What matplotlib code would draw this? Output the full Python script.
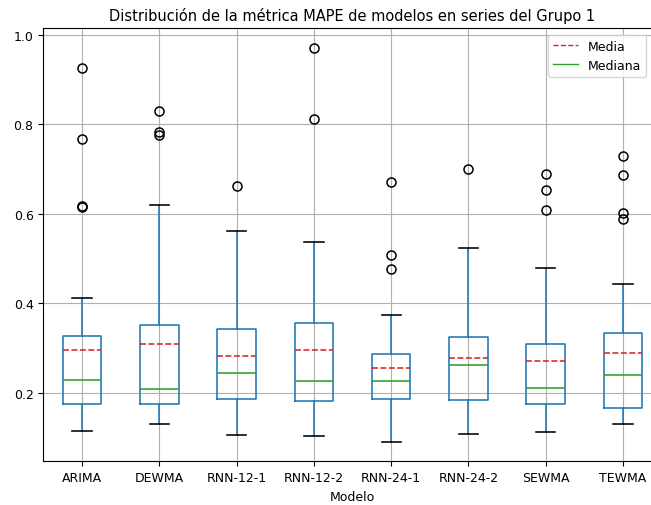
import matplotlib
matplotlib.use("Agg")
import matplotlib.pyplot as plt
from matplotlib.lines import Line2D

# MAPE summary per model (group 1 series)
modelos = ["ARIMA", "DEWMA", "RNN-12-1", "RNN-12-2",
           "RNN-24-1", "RNN-24-2", "SEWMA", "TEWMA"]
q1 = [0.175, 0.175, 0.187, 0.181, 0.187, 0.184, 0.175, 0.167]
mediana = [0.229, 0.208, 0.244, 0.226, 0.226, 0.262, 0.211, 0.240]
q3 = [0.328, 0.352, 0.342, 0.357, 0.286, 0.324, 0.309, 0.333]
media = [0.297, 0.309, 0.283, 0.297, 0.256, 0.277, 0.271, 0.289]
bigote_inf = [0.115, 0.130, 0.106, 0.104, 0.091, 0.109, 0.112, 0.130]
bigote_sup = [0.411, 0.620, 0.561, 0.536, 0.373, 0.524, 0.480, 0.444]
atipicos = [
    [0.925, 0.766, 0.618, 0.616],
    [0.830, 0.782, 0.775],
    [0.662],
    [0.970, 0.811],
    [0.671, 0.507, 0.477],
    [0.701],
    [0.689, 0.652, 0.608],
    [0.728, 0.686, 0.601, 0.588],
]

stats = []
for i, nombre in enumerate(modelos):
    stats.append({
        "label": nombre,
        "q1": q1[i], "med": mediana[i], "q3": q3[i], "mean": media[i],
        "whislo": bigote_inf[i], "whishi": bigote_sup[i],
        "fliers": atipicos[i],
    })

plt.rcParams["font.size"] = 9

fig = plt.figure(figsize=(6.51, 5.06), dpi=100)
ax = fig.add_axes([0.0665, 0.086, 0.95, 0.856])

lw = 1.15
ax.bxp(stats, widths=0.5, showmeans=True, meanline=True,
       boxprops=dict(color="C0", linewidth=lw),
       whiskerprops=dict(color="C0", linewidth=lw),
       capprops=dict(color="k", linewidth=lw),
       medianprops=dict(color="C2", linewidth=lw),
       meanprops=dict(color="C3", linestyle="--", linewidth=lw),
       flierprops=dict(marker="o", markerfacecolor="none",
                       markeredgecolor="k", markersize=6.5,
                       markeredgewidth=1.1))

ax.grid(True)
ax.set_axisbelow(True)
ax.set_xlim(0.5, 8.5)
ax.set_yticks([0.2, 0.4, 0.6, 0.8, 1.0])
ax.set_xlabel("Modelo")
ax.set_title("Distribución de la métrica MAPE de modelos en series del Grupo 1",
             fontsize=10.5)

handles = [Line2D([], [], color="C3", linestyle="--", linewidth=1),
           Line2D([], [], color="C2", linewidth=1)]
ax.legend(handles, ["Media", "Mediana"], loc="upper right",
          bbox_to_anchor=(0.985, 1.0))

fig.savefig("out.png", dpi=100)
